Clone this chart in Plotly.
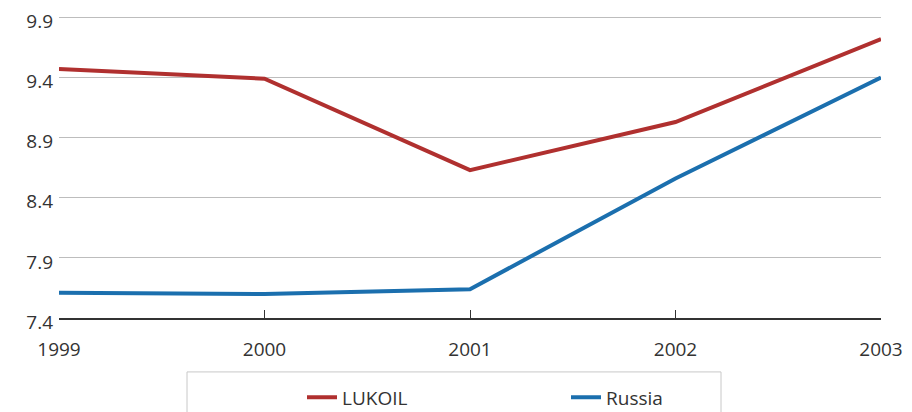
import plotly.graph_objects as go

years = [1999, 2000, 2001, 2002, 2003]
lukoil = [9.47, 9.39, 8.63, 9.03, 9.72]
russia = [7.61, 7.60, 7.64, 8.56, 9.40]
y_ticks = [7.4, 7.9, 8.4, 8.9, 9.4, 9.9]

RED = "#B0302F"
BLUE = "#1B6FAE"
FONT = "Open Sans"
TXT = "#333333"

# page body adds an 8px offset; layout is specified in canvas pixels
OFF = 8
W, H = 912, 412
Y_MIN, Y_MAX = 7.4, 9.92
PX_PER_UNIT = 120.0
L = 59 - OFF
R = W - (881 - OFF)
B = H - (318 - OFF)
T = (17 - OFF) - (Y_MAX - 9.9) * PX_PER_UNIT
pw, ph = W - L - R, H - T - B


def px_x(screen_x):
    return (screen_x - OFF - L) / pw


def px_y(screen_y):
    return (H - B - (screen_y - OFF)) / ph


fig = go.Figure()
fig.add_trace(go.Scatter(x=years, y=lukoil, mode="lines", name="LUKOIL",
                         line=dict(color=RED, width=4)))
fig.add_trace(go.Scatter(x=years, y=russia, mode="lines", name="Russia",
                         line=dict(color=BLUE, width=4)))

# legend frame (open at bottom edge of image)
fig.add_shape(type="rect", xref="paper", yref="paper",
              x0=px_x(187), x1=px_x(721), y0=px_y(372), y1=px_y(440),
              line=dict(color="#c8c8c8", width=1), fillcolor="rgba(0,0,0,0)")

fig.update_layout(
    width=W, height=H,
    margin=dict(l=L, r=R, t=T, b=B, autoexpand=False),
    paper_bgcolor="white", plot_bgcolor="white",
    font=dict(family=FONT, size=19, color=TXT),
    showlegend=True,
    legend=dict(orientation="h", xref="container", yref="container",
                x=(302 - OFF) / W, xanchor="left",
                y=1 - (378.5 - OFF) / H, yanchor="top",
                font=dict(family=FONT, size=19, color=TXT),
                entrywidth=219, entrywidthmode="pixels",
                bgcolor="rgba(0,0,0,0)", borderwidth=0),
    xaxis=dict(range=[1999, 2003], tickvals=years, ticktext=[str(y) for y in years],
               showgrid=False, zeroline=False, showline=True, linecolor="#333333",
               linewidth=2, ticks="inside", ticklen=8, tickwidth=1, tickcolor="#333333",
               ticklabelstandoff=13, fixedrange=True),
    yaxis=dict(range=[Y_MIN, Y_MAX], tickvals=y_ticks, ticktext=[f"{v:.1f}" for v in y_ticks],
               showgrid=True, gridcolor="#bdbdbd", gridwidth=1, zeroline=False,
               showline=False, ticks="", ticklabelstandoff=5, ticklabelshift=4,
               ticklabeloverflow="allow", fixedrange=True),
)

fig.write_html("out.html")
